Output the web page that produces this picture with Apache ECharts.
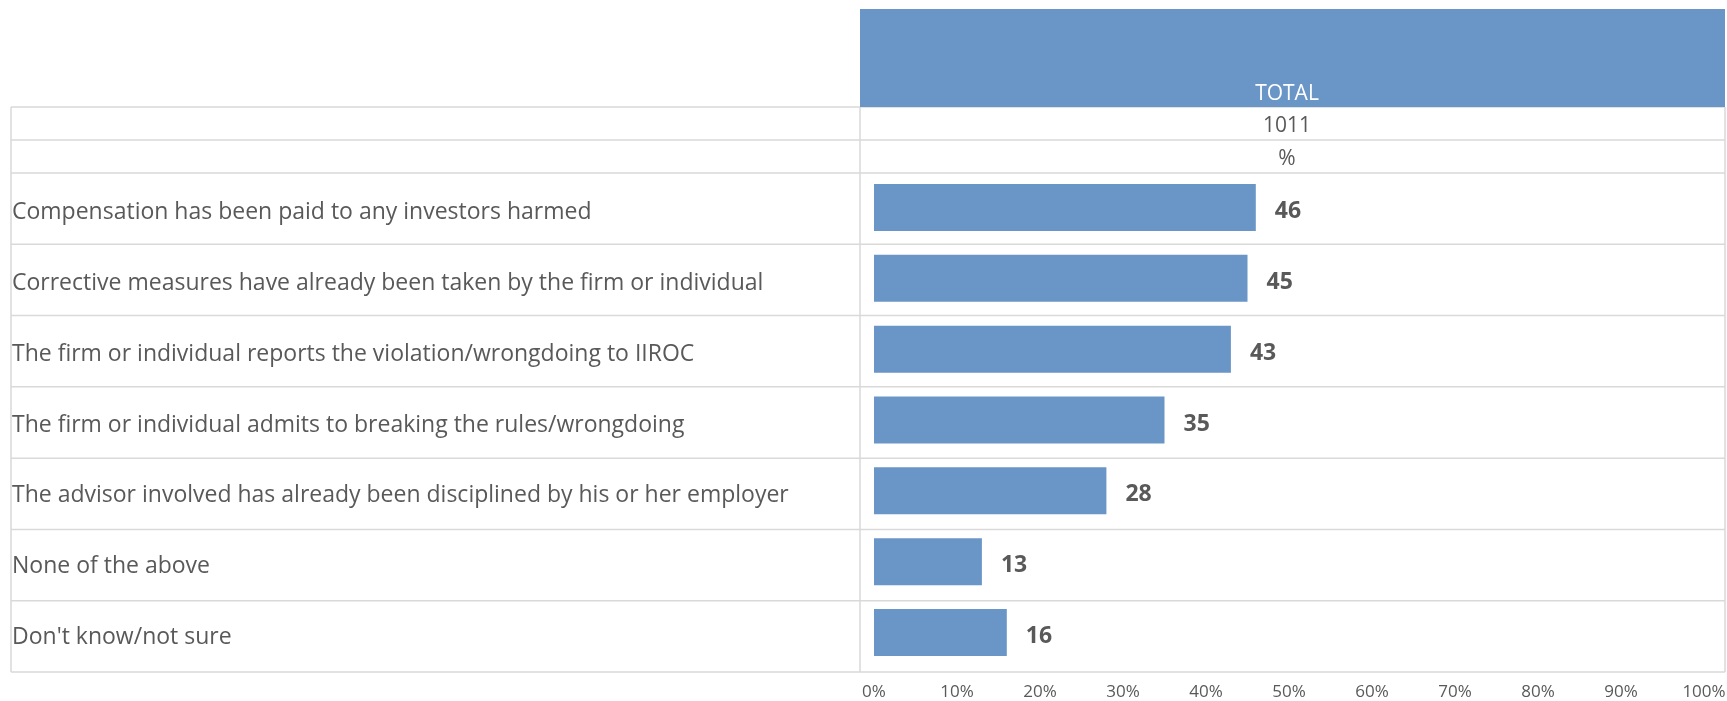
<!DOCTYPE html>
<html><head><meta charset="utf-8">
<script src="https://cdn.jsdelivr.net/npm/echarts@6/dist/echarts.min.js"></script>
<style>html,body{margin:0;padding:0;background:#fff}#c{width:1727px;height:701px}</style>
</head><body><div id="c"></div>
<script>
const categories = [
  "Compensation has been paid to any investors harmed",
  "Corrective measures have already been taken by the firm or individual",
  "The firm or individual reports the violation/wrongdoing to IIROC",
  "The firm or individual admits to breaking the rules/wrongdoing",
  "The advisor involved has already been disciplined by his or her employer",
  "None of the above",
  "Don't know/not sure"
];
const totalValues = [46, 45, 43, 35, 28, 13, 16];
const headerLabel = "TOTAL";
const baseLabel = "1011";
const unitLabel = "%";

const FONT = "'Open Sans', sans-serif";
const LINE = '#d9d9d9';
const BLUE = '#6a95c7';
const TXT = '#595959';

const chart = echarts.init(document.getElementById('c'));
const L = 11, M = 860, R = 1725, TOP = 173, BOT = 672;
const rowH = (BOT - TOP) / categories.length;
const CX = 1287;
const g = [];
g.push({type:'rect', shape:{x:M, y:9, width:R-M, height:98}, style:{fill:BLUE}});
g.push({type:'text', x:CX, y:94, style:{text:headerLabel, fill:'#fff', font:'21px '+FONT, textAlign:'center', textVerticalAlign:'middle'}});
g.push({type:'text', x:CX, y:126, style:{text:baseLabel, fill:TXT, font:'21px '+FONT, textAlign:'center', textVerticalAlign:'middle'}});
g.push({type:'text', x:CX, y:159, style:{text:unitLabel, fill:TXT, font:'21px '+FONT, textAlign:'center', textVerticalAlign:'middle'}});
const hs = [107, 140, 173];
for (let i = 1; i <= categories.length; i++) hs.push(TOP + rowH * i);
hs.forEach(y => g.push({type:'line', shape:{x1:L, y1:y, x2:R, y2:y}, style:{stroke:LINE, lineWidth:1.5}, z:-1}));
[L, M, R].forEach(x => g.push({type:'line', shape:{x1:x, y1:107, x2:x, y2:BOT}, style:{stroke:LINE, lineWidth:1.5}, z:-1}));

chart.setOption({
  animation:false,
  graphic:g,
  grid:{left:874, right:23, top:172, bottom:33, containLabel:false, outerBoundsMode:'none'},
  xAxis:{type:'value', min:0, max:100, interval:10,
    axisLine:{show:false}, axisTick:{show:false}, splitLine:{show:false},
    axisLabel:{formatter:'{value}%', color:TXT, fontFamily:FONT, fontSize:17, margin:16}},
  yAxis:{type:'category', data:categories, inverse:true,
    axisLine:{show:false}, axisTick:{show:false}, splitLine:{show:false},
    axisLabel:{align:'left', margin:862, formatter: v => '{a|' + v + '}',
      rich:{a:{color:TXT, fontFamily:FONT, fontSize:23, padding:[10,0,0,0]}}}},
  series:[{type:'bar', data:totalValues, barWidth:47,
    itemStyle:{color:BLUE},
    label:{show:true, position:'right', distance:19, offset:[0,4], color:TXT, fontFamily:FONT, fontSize:23, fontWeight:'bold'}}]
});
</script></body></html>
